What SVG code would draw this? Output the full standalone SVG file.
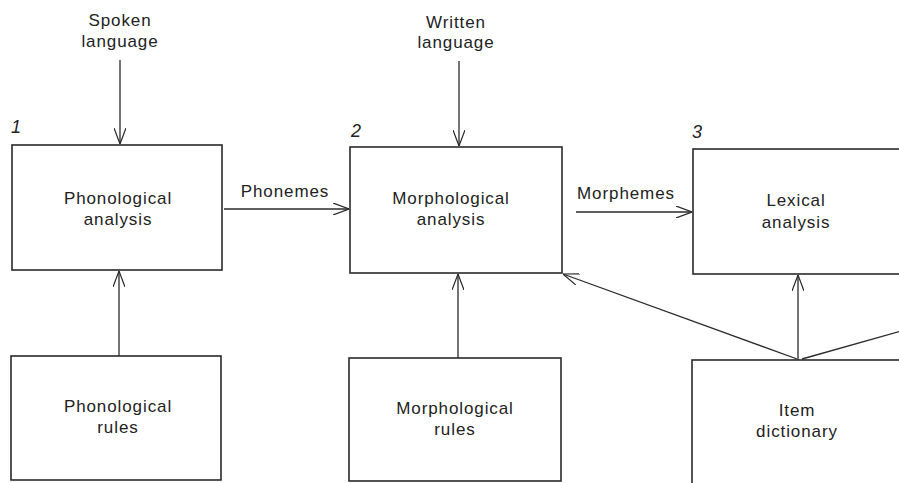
<svg xmlns="http://www.w3.org/2000/svg" width="899" height="483" viewBox="0 0 899 483">
<style>
.box{fill:none;stroke:#2a2a2a;stroke-width:1.6}
.ln{fill:none;stroke:#2a2a2a;stroke-width:1.3}
.t{font-family:"Liberation Sans",Arial,sans-serif;font-size:17px;fill:#222;text-anchor:middle;letter-spacing:0.9px}
.n{font-family:"Liberation Sans",Arial,sans-serif;font-size:18px;font-style:italic;fill:#222}
</style>
<defs>
<marker id="a" viewBox="0 0 16 12" refX="16" refY="6" markerWidth="16" markerHeight="12" markerUnits="userSpaceOnUse" orient="auto">
<path d="M0,0 L16,6 L0,12" fill="none" stroke="#2a2a2a" stroke-width="1.2"/>
</marker>
</defs>
<rect width="899" height="483" fill="#fff"/>
<g id="spoken">
<text class="t" x="120" y="26">Spoken</text>
<text class="t" x="120" y="47">language</text>
</g>
<g id="written">
<text class="t" x="456" y="28">Written</text>
<text class="t" x="456" y="48">language</text>
</g>
<g id="phon-analysis">
<text class="n" x="11" y="133">1</text>
<rect class="box" x="12" y="145" width="210" height="125"/>
<text class="t" x="118" y="204">Phonological</text>
<text class="t" x="118" y="225">analysis</text>
</g>
<g id="morph-analysis">
<text class="n" x="351" y="137">2</text>
<rect class="box" x="350" y="147" width="212" height="126"/>
<text class="t" x="451" y="204">Morphological</text>
<text class="t" x="451" y="225">analysis</text>
</g>
<g id="lex-analysis">
<text class="n" x="692" y="138">3</text>
<rect class="box" x="693" y="149" width="230" height="125"/>
<text class="t" x="796" y="206">Lexical</text>
<text class="t" x="796" y="228">analysis</text>
</g>
<g id="phon-rules">
<rect class="box" x="11" y="356" width="210" height="124"/>
<text class="t" x="118" y="412">Phonological</text>
<text class="t" x="118" y="433">rules</text>
</g>
<g id="morph-rules">
<rect class="box" x="349" y="358" width="212" height="123"/>
<text class="t" x="455" y="414">Morphological</text>
<text class="t" x="455" y="435">rules</text>
</g>
<g id="item-dict">
<rect class="box" x="692" y="360" width="230" height="140"/>
<text class="t" x="797" y="416">Item</text>
<text class="t" x="797" y="437">dictionary</text>
</g>
<g id="connectors">
<line class="ln" x1="120" y1="60" x2="120" y2="144" marker-end="url(#a)"/>
<line class="ln" x1="459" y1="61" x2="459" y2="146" marker-end="url(#a)"/>
<line class="ln" x1="224" y1="209" x2="349" y2="209" marker-end="url(#a)"/>
<text class="t" x="285" y="197">Phonemes</text>
<line class="ln" x1="576" y1="212" x2="692" y2="212" marker-end="url(#a)"/>
<text class="t" x="626" y="199">Morphemes</text>
<line class="ln" x1="119" y1="356" x2="119" y2="271" marker-end="url(#a)"/>
<line class="ln" x1="458" y1="358" x2="458" y2="274" marker-end="url(#a)"/>
<line class="ln" x1="798" y1="360" x2="798" y2="275" marker-end="url(#a)"/>
<line class="ln" x1="797" y1="359" x2="563" y2="274" marker-end="url(#a)"/>
<line class="ln" x1="802" y1="359" x2="905" y2="330"/>
</g>
</svg>
